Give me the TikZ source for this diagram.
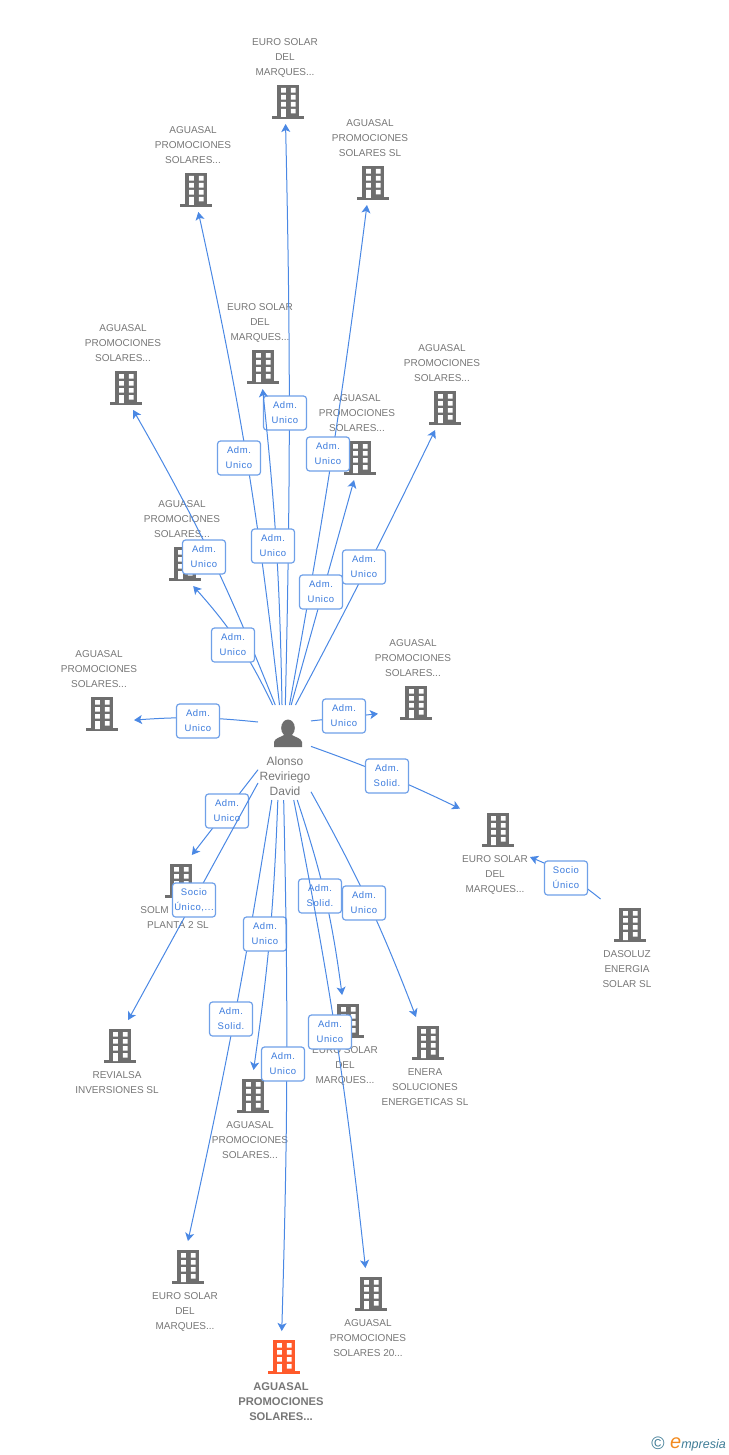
\documentclass[tikz,border=0pt]{standalone}
\usepackage{fontspec}
\setmainfont{Liberation Sans}
\newfontfamily\badgefont[LetterSpace=6]{Liberation Sans}
\usetikzlibrary{positioning}
\usetikzlibrary{arrows.meta}

\definecolor{linkblue}{HTML}{4A88E4}
\definecolor{badgeline}{HTML}{6FA0E8}
\definecolor{badgetext}{HTML}{3B7BDD}
\definecolor{bldgray}{HTML}{6E6E6E}
\definecolor{txtgray}{HTML}{777777}
\definecolor{bldorange}{HTML}{FF5A2B}
\definecolor{logoblue}{HTML}{3F7C96}
\definecolor{logoorange}{HTML}{F28A1E}

\newcommand{\aguname}{AGUASAL\\PROMOCIONES\\SOLARES...}
\newcommand{\eurname}{EURO SOLAR\\DEL\\MARQUES...}
\newcommand{\admuni}{Adm.\\Unico}
\newcommand{\admsol}{Adm.\\Solid.}

\tikzset{
	bld/.style={minimum width=70pt,minimum height=48pt,inner sep=0pt,outer sep=0pt},
	bldicon/.pic={
		\begin{scope}[shift={(3.2,2)}]
		\fill (-11,-17) rectangle (11,15);
		\fill (-16,14) rectangle (16,17);
		\fill[white] (-7,-14) rectangle (-2.3,-9.3) (2.7,-14) rectangle (7.3,-9.3);
		\fill[white] (-7,-7) rectangle (-2.3,-2.3) (2.7,-7) rectangle (7.3,-2.3);
		\fill[white] (-7,0) rectangle (-2.3,4.7) (2.7,0) rectangle (7.3,4.7);
		\fill[white] (-7,7) rectangle (-2.3,15) (2.7,7) rectangle (7.3,11.5);
		\end{scope}
	},
	lbl/.style={align=center,inner sep=0pt,yshift=-2.5pt,text=txtgray,font=\fontsize{10}{15}\selectfont},
	badge/.style={draw=badgeline,line width=1.2pt,rounded corners=3pt,fill=white,align=center,
		minimum width=43pt,minimum height=34pt,inner sep=0pt,text=badgetext,
		font=\badgefont\fontsize{9.5}{15}\selectfont},
	link/.style={draw=linkblue,line width=1pt,-{Stealth[length=8pt,width=9pt,inset=2pt]}},
	x=1pt,y=-1pt
}

\begin{document}
\begin{tikzpicture}
\useasboundingbox (0,0) rectangle (728,1455);

% companies
\foreach \n/\cx/\cy/\side/\name in {
	1/285/100/above/{\eurname},
	2/193/188/above/{\aguname},
	3/370/181/above/{AGUASAL\\PROMOCIONES\\SOLARES SL},
	4/260/365/above/{\eurname},
	5/123/386/above/{\aguname},
	6/442/406/above/{\aguname},
	7/357/456/above/{\aguname},
	8/182/562/above/{\aguname},
	9/99/712/above/{\aguname},
	10/413/701/above/{\aguname},
	11/495/828/below/{\eurname},
	12/627/923/below/{DASOLUZ\\ENERGIA\\SOLAR SL},
	13/178/879/below/{SOLM\phantom{XXXXXXX}\\PLANTA 2 SL},
	14/117/1044/below/{REVIALSA\\INVERSIONES SL},
	15/185/1265/below/{\eurname},
	16/250/1094/below/{\aguname},
	18/368/1292/below/{AGUASAL\\PROMOCIONES\\SOLARES 20...},
	19/345/1019/below/{\eurname},
	20/425/1041/below/{ENERA\\SOLUCIONES\\ENERGETICAS SL}%
}{
	\node[bld] (c\n) at (\cx,\cy) {};
	\pic[bldgray] at (c\n) {bldicon};
	\node[lbl,\side=1pt of c\n] (t\n) {\name\vphantom{Qg}};
}
\node[bld] (c17) at (281,1355) {};
\pic[bldorange] at (c17) {bldicon};
\node[lbl,below=1pt of c17,font=\fontsize{11.2}{15}\selectfont\bfseries] (t17) {\aguname};

% person
\node[minimum width=53pt,minimum height=95pt,inner sep=0pt,outer sep=0pt] (person) at (284.5,752.5) {};
\fill[bldgray] (288,728) ellipse (6.8 and 8.5);
\fill[bldgray] (274,747) -- (274,742) .. controls (275,738) and (280,737.5) .. (284,735)
	-- (292,735) .. controls (296,737.5) and (301,738) .. (302,742) -- (302,747) -- cycle;
\node[lbl,font=\fontsize{12}{15}\selectfont] (persontxt) at (285,773.5) {Alonso\\Reviriego\\David};

% links, each one with its badge on top
\foreach \n/\ang/\bend/\tip/\bx/\by/\name in {
	1/89.4/-1.3/c1/285/413/{\admuni},
	2/96.6/-3/c2/239/458/{\admuni},
	3/84.6/-1.5/c3/328/454/{\admuni},
	4/93/-2.5/c4/273/546/{\admuni},
	5/101.3/-4/c5.-67/204/557/{\admuni},
	7/82.2/0/c7.-97/321/592/{\admuni},
	6/77.5/-1/c6.-106/364/567/{\admuni},
	8/104.7/-8/c8.-65/233/645/{\admuni},
	9/131/-5/c9.-13/198/721/{\admuni},
	10/50/0/c10.200/344/716/{\admuni},
	11/13.8/3/c11.151.5/387/776/{\admsol},
	13/213.4/0/c13.60/227/811/{\admuni},
	14/229/0/c14.65/194/900/{Socio\\Único,...},
	15/255.3/1.7/c15.83/231/1019/{\admsol},
	16/262.2/3/c16/265/934/{\admuni},
	17/269.4/1.5/c17/283/1064/{\admuni},
	19/285.9/5.4/c19/320/896/{\admsol},
	18/281.3/2.5/c18/330/1032/{\admuni},
	20/-56/4/c20/364/903/{\admuni}%
}{
	\draw[link] (person.\ang) to[bend left=\bend] (\tip);
	\node[badge] (b\n) at (\bx,\by) {\name};
}
\draw[link] (c12) to[bend right=8] ([yshift=-5pt]c11.south east);
\node[badge] (b12) at (566,878) {Socio\\Único};

% logo
\node[inner sep=0pt,text=logoblue,font=\fontsize{18}{18}\selectfont] (copyr) at (658,1443.5) {©};
\node[inner sep=0pt,anchor=base west,text=logoblue,font=\fontsize{12.5}{12.5}\selectfont\itshape] (logo) at (670,1448)
	{{\color{logoorange}\fontsize{20}{20}\selectfont e}mpresia};
\end{tikzpicture}
\end{document}
